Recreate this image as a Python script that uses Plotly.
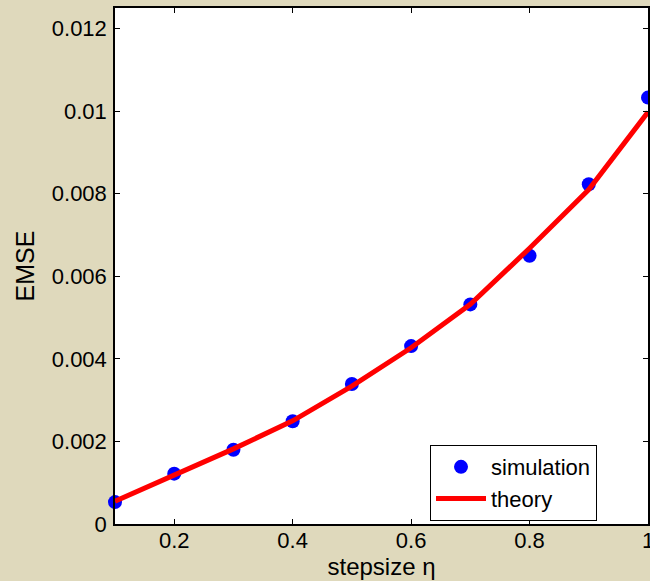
import plotly.graph_objects as go

stepsize = [0.1, 0.2, 0.3, 0.4, 0.5, 0.6, 0.7, 0.8, 0.9, 1.0]
simulation = [0.00053, 0.00122, 0.00180, 0.00249, 0.00339, 0.00431, 0.00532, 0.00650, 0.00823, 0.01033]
theory = [0.00055, 0.00117, 0.00182, 0.00250, 0.00334, 0.00427, 0.00532, 0.00668, 0.00810, 0.00998]

x_ticks = [0.2, 0.4, 0.6, 0.8, 1.0]
x_tick_labels = ["0.2", "0.4", "0.6", "0.8", "1"]
y_ticks = [0, 0.002, 0.004, 0.006, 0.008, 0.01, 0.012]
y_tick_labels = ["0", "0.002", "0.004", "0.006", "0.008", "0.01", "0.012"]

font = "Liberation Sans, Arial, sans-serif"

fig = go.Figure()
fig.add_trace(go.Scatter(
    x=stepsize, y=simulation, mode="markers", name="simulation",
    marker=dict(color="#0000ff", size=14), cliponaxis=False,
))
fig.add_trace(go.Scatter(
    x=stepsize, y=theory, mode="lines", name="theory",
    line=dict(color="#ff0000", width=5),
))

axis_common = dict(
    showline=True, linecolor="black", linewidth=1.5, mirror="ticks",
    ticks="inside", ticklen=5, tickcolor="black", tickwidth=1,
    showgrid=False, zeroline=False, ticklabeloverflow="allow",
    tickfont=dict(family=font, size=22, color="black"),
)

fig.update_layout(
    width=650, height=581,
    margin=dict(l=115, r=2, t=8, b=57, autoexpand=False),
    paper_bgcolor="#dfd9bc",
    plot_bgcolor="white",
    showlegend=True,
    legend=dict(
        x=0.591, y=0.153, xanchor="left", yanchor="top",
        bgcolor="white", bordercolor="black", borderwidth=1,
        font=dict(family=font, size=22, color="black"),
        tracegroupgap=0, itemwidth=50,
    ),
    xaxis=dict(
        range=[0.1, 1.0], tickvals=x_ticks, ticktext=x_tick_labels,
        title=dict(text="stepsize η", font=dict(family=font, size=24, color="black"), standoff=6),
        ticklabelstandoff=-4,
        **axis_common,
    ),
    yaxis=dict(
        range=[0, 0.0125], tickvals=y_ticks, ticktext=y_tick_labels,
        title=dict(text="EMSE", font=dict(family=font, size=25, color="black"), standoff=10),
        ticklabelstandoff=2,
        **axis_common,
    ),
)

fig.write_html(
    "out.html",
    config={"displayModeBar": False},
    post_script="document.body.style.margin='0';document.body.style.overflow='hidden';",
)
